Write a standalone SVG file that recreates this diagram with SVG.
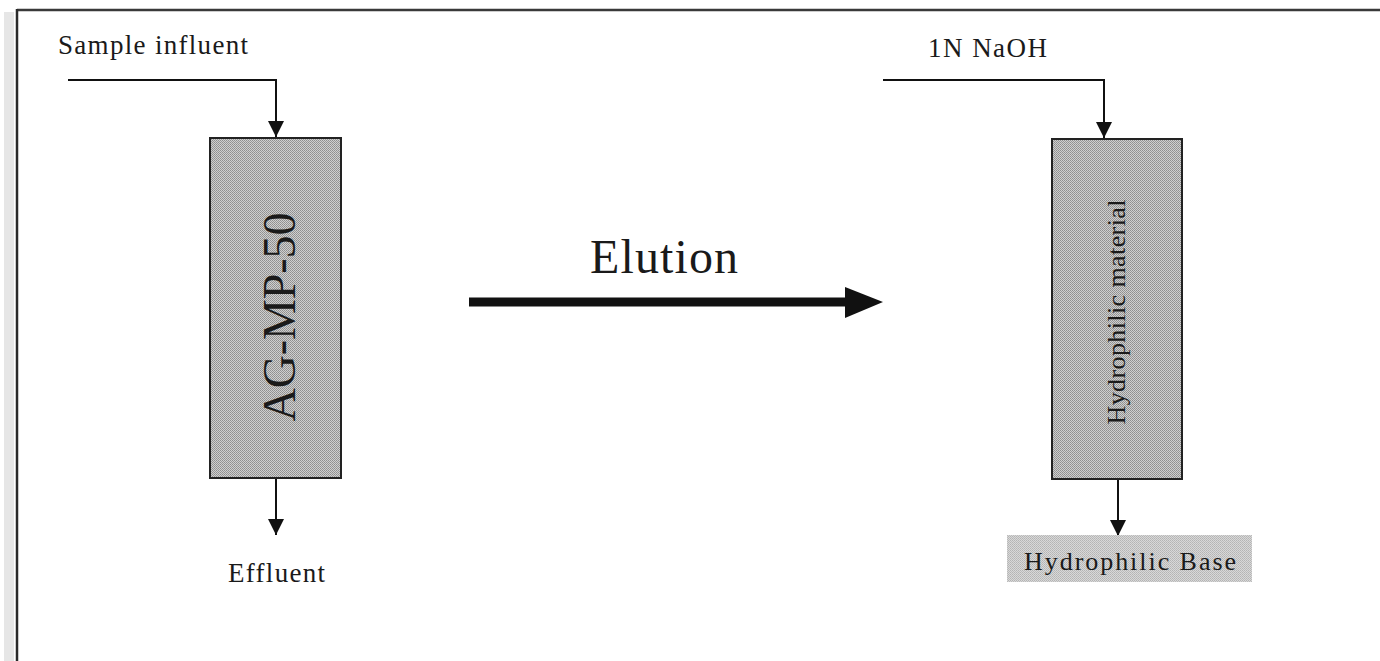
<svg xmlns="http://www.w3.org/2000/svg" width="1380" height="661" viewBox="0 0 1380 661">
<style>
  .t { font-family: "Liberation Serif", "Times New Roman", serif; fill: #1a1a1a; }
  .box { fill: url(#stip); stroke: #222; stroke-width: 2; }
  .conn { fill: none; stroke: #111; stroke-width: 2; }
</style>
<defs>
  <pattern id="stip" width="2" height="2" patternUnits="userSpaceOnUse">
    <rect width="2" height="2" fill="#cfcfcf"/>
    <rect width="1" height="1" fill="#8e8e8e"/>
    <rect x="1" y="1" width="1" height="1" fill="#989898"/>
  </pattern>
  <pattern id="stip2" width="2" height="2" patternUnits="userSpaceOnUse">
    <rect width="2" height="2" fill="#d8d8d8"/>
    <rect width="1" height="1" fill="#b4b4b4"/>
    <rect x="1" y="1" width="1" height="1" fill="#bcbcbc"/>
  </pattern>
  <marker id="ah" viewBox="0 0 16 16" refX="16" refY="8" markerWidth="16" markerHeight="16" markerUnits="userSpaceOnUse" orient="auto">
    <path d="M0,0 L16,8 L0,16 z" fill="#111"/>
  </marker>
</defs>
<rect width="1380" height="661" fill="#ffffff"/>
<g id="frame">
  <rect x="4" y="12" width="10" height="649" fill="#e6e6e6"/>
  <line x1="17" y1="10" x2="1380" y2="10" stroke="#3a3a3a" stroke-width="2.5"/>
  <line x1="17" y1="9" x2="17" y2="661" stroke="#2a2a2a" stroke-width="2.5"/>
</g>
<g id="connectors">
  <path class="conn" d="M68 80 H276 V137" marker-end="url(#ah)"/>
  <path class="conn" d="M276 478 V535" marker-end="url(#ah)"/>
  <path class="conn" d="M883 80 H1104 V138" marker-end="url(#ah)"/>
  <path class="conn" d="M1118 479 V536" marker-end="url(#ah)"/>
  <g id="elution-arrow">
    <line x1="469" y1="302" x2="848" y2="302" stroke="#111" stroke-width="9"/>
    <polygon points="845,287 883,302 845,318" fill="#111"/>
  </g>
</g>
<g id="label-sample">
  <text class="t" x="58" y="54" font-size="27" textLength="190" lengthAdjust="spacing">Sample influent</text>
</g>
<g id="node-agmp50">
  <rect class="box" x="210" y="138" width="131" height="340"/>
  <text class="t" transform="translate(295 317) rotate(-90)" x="0" y="0" font-size="46" text-anchor="middle" textLength="209" lengthAdjust="spacing">AG-MP-50</text>
</g>
<g id="label-effluent">
  <text class="t" x="228" y="582" font-size="27" textLength="97" lengthAdjust="spacing">Effluent</text>
</g>
<g id="label-elution">
  <text class="t" x="590" y="273" font-size="48" textLength="148" lengthAdjust="spacing">Elution</text>
</g>
<g id="label-naoh">
  <text class="t" x="928" y="57" font-size="27" textLength="119" lengthAdjust="spacing">1N NaOH</text>
</g>
<g id="node-hydrophilic-material">
  <rect class="box" x="1052" y="139" width="130" height="340"/>
  <text class="t" transform="translate(1125 312) rotate(-90)" x="0" y="0" font-size="26" text-anchor="middle" textLength="225" lengthAdjust="spacing">Hydrophilic material</text>
</g>
<g id="node-hydrophilic-base">
  <rect x="1007" y="535" width="245" height="47" fill="url(#stip2)"/>
  <text class="t" x="1024" y="570" font-size="26" textLength="212" lengthAdjust="spacing">Hydrophilic Base</text>
</g>
</svg>
